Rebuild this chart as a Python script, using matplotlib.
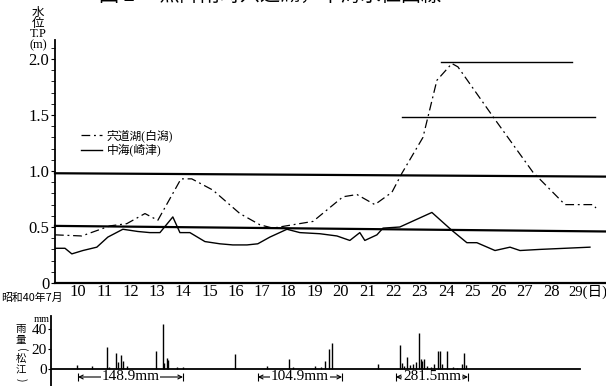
import numpy as np
import matplotlib
matplotlib.use("Agg")
import matplotlib.pyplot as plt
from matplotlib.ticker import MultipleLocator

plt.rcParams['font.family'] = ['Liberation Serif', 'Noto Sans CJK JP']

# water level, 宍道湖 (白潟)
shinji_day = [9.13, 10.15, 11.22, 11.86, 12.55, 13.04, 13.92, 14.33, 15.13, 16.16,
              16.92, 17.41, 18.17, 18.94, 20.08, 20.61, 21.29, 21.94, 22.32, 23.12,
              23.65, 24.22, 24.45, 25.86, 27.30, 28.52, 29.58, 29.70]
shinji_lvl = [0.43, 0.42, 0.51, 0.53, 0.62, 0.56, 0.93, 0.93, 0.83, 0.62,
              0.52, 0.49, 0.52, 0.55, 0.77, 0.79, 0.70, 0.81, 0.98, 1.30,
              1.81, 1.96, 1.93, 1.46, 0.99, 0.70, 0.70, 0.67]

# water level, 中海 (崎津)
naka_day = [9.13, 9.51, 9.77, 10.19, 10.72, 11.14, 11.71, 12.28, 12.74, 13.12,
            13.61, 13.88, 14.26, 14.83, 15.40, 15.89, 16.43, 16.84, 17.30, 17.95,
            18.44, 19.20, 19.85, 20.34, 20.72, 20.91, 21.37, 21.60, 22.24, 23.46,
            24.22, 24.79, 25.17, 25.86, 26.43, 26.81, 27.57, 29.47]
naka_lvl = [0.31, 0.31, 0.26, 0.29, 0.32, 0.41, 0.48, 0.46, 0.45, 0.45,
            0.59, 0.45, 0.45, 0.37, 0.35, 0.34, 0.34, 0.35, 0.41, 0.48,
            0.45, 0.44, 0.42, 0.38, 0.45, 0.38, 0.43, 0.49, 0.50, 0.63,
            0.47, 0.36, 0.36, 0.29, 0.32, 0.29, 0.30, 0.32]

# reference levels: (day from, day to, level at start, level at end)
ref_lines = [(9.13, 30.1, 0.98, 0.95),
             (9.13, 30.1, 0.51, 0.46),
             (23.8, 28.8, 1.97, 1.97),
             (22.33, 29.66, 1.48, 1.48)]

# hourly rainfall at 松江 (mm)
rain_day = [9.97, 10.53, 11.10, 11.18, 11.45, 11.52, 11.63, 11.71, 11.86,
            12.97, 13.23, 13.27, 13.38, 13.42, 13.76, 13.99, 15.97, 17.19,
            18.02, 18.17, 19.01, 19.24, 19.39, 19.54, 19.66, 21.41, 22.24,
            22.32, 22.40, 22.51, 22.63, 22.74, 22.85, 22.97, 23.04, 23.08,
            23.16, 23.27, 23.42, 23.54, 23.69, 23.76, 23.84, 24.03, 24.26,
            24.41, 24.60, 24.68, 24.75]
rain_mm = [4, 3, 22, 2, 16, 7, 14, 8, 3,
           18, 45, 6, 11, 9, 2, 2, 15, 3,
           10, 2, 3, 2, 8, 20, 26, 5, 24,
           6, 3, 12, 4, 5, 7, 36, 10, 8,
           10, 3, 2, 5, 18, 18, 5, 18, 2,
           1, 5, 16, 4]

# totals per rain spell: (from, to, label)
rain_totals = [(10.0, 13.99, "148.9mm"),
               (16.84, 20.04, "104.9mm"),
               (22.09, 24.83, "281.5mm")]

days = list(range(10, 29))
day_labels = [str(d) for d in days]
last_day, last_label = 29, "29(日)"

cjk = ['Noto Sans CJK JP', 'DejaVu Sans']

fig = plt.figure(figsize=(6.06, 3.86), dpi=100)

# --- water level panel ---
ax = fig.add_axes([55 / 606, 1 - 283 / 386, 1 - 55 / 606, 243 / 386])
ax.set_xlim(9.13, 30.08)
ax.set_ylim(0, 2.17)

for x0, x1, y0, y1 in ref_lines:
    lw = 1.6 if x0 < 10 else 1.0
    ax.plot([x0, x1], [y0, y1], color='black', lw=lw, clip_on=False)

ax.plot(shinji_day, shinji_lvl, color='black', lw=0.9,
        linestyle=(0, (7, 3, 1.5, 3)), label='宍道湖(白潟)')
ax.plot(naka_day, naka_lvl, color='black', lw=1.0, label='中海(崎津)')

ax.spines['top'].set_visible(False)
ax.spines['right'].set_visible(False)
ax.spines['left'].set_linewidth(1.3)
ax.spines['bottom'].set_linewidth(1.6)
ax.set_yticks([0, 0.5, 1.0, 1.5, 2.0])
ax.set_yticklabels(['0', '0.5', '1.0', '1.5', '2.0'], fontsize=12)
ax.yaxis.set_minor_locator(MultipleLocator(0.1))
ax.tick_params(axis='y', which='both', direction='out', length=3, pad=1)
ax.set_xticks(days)
ax.set_xticklabels(day_labels, fontsize=12)
ax.tick_params(axis='x', length=0, pad=1)
# last day label hangs to the right of its position
ax.text(last_day - 0.35, -0.012, last_label, ha='left', va='top', fontsize=10.5)

fig.text(38 / 606, 1 - 29 / 386, "水\n位\nT.P\n(m)", ha='center', va='center',
         fontsize=9, linespacing=0.85)
fig.text(1 / 606, 1 - 298 / 386, "昭和40年7月", ha='left', va='center', fontsize=7.8,
         family=cjk)
fig.text(0.445, 1.012, "図 2　 無降雨時宍道湖，中海水位曲線", ha='center', va='center',
         fontsize=14.5, family=cjk)

ax.legend(loc='upper left', bbox_to_anchor=(75 / 606, 1 - 124 / 386),
          bbox_transform=fig.transFigure, frameon=False, fontsize=8.5,
          handlelength=1.8, handletextpad=0.4, labelspacing=0.1, borderpad=0)

# --- rainfall panel ---
ax2 = fig.add_axes([51 / 606, 0, 1 - 51 / 606, 70 / 386])
ax2.set_xlim(8.97, 30.08)
ax2.set_ylim(-17, 53)
ax2.vlines(rain_day, 0, rain_mm, color='black', lw=1.0)
ax2.plot([8.97, 29.09], [0, 0], color='black', lw=1.3)

for x0, x1, txt in rain_totals:
    ax2.annotate("", xy=(x0, -8), xytext=(x1, -8),
                 arrowprops=dict(arrowstyle='<->', lw=0.8, color='black',
                                 shrinkA=0, shrinkB=0, mutation_scale=7))
    ax2.vlines([x0, x1], -12, -4, color='black', lw=0.8)
    ax2.text((x0 + x1) / 2, -8, txt, ha='center', va='center', fontsize=11,
             bbox=dict(facecolor='white', edgecolor='none', pad=0.5))

for s in ['top', 'right', 'bottom']:
    ax2.spines[s].set_visible(False)
ax2.spines['left'].set_linewidth(1.3)
ax2.set_xticks([])
ax2.set_yticks([0, 20, 40])
ax2.set_yticklabels(['0', '20', '40'], fontsize=11)
ax2.tick_params(axis='y', direction='out', length=2, pad=1)
fig.text(50 / 606, 1 - 319 / 386, "mm", ha='right', va='center', fontsize=7.5)

# vertical axis title, one character per row; brackets turned for vertical writing
for ch, ypx, rot in zip("雨量(松江)", [329, 340, 350, 359, 370, 380],
                        [0, 0, -90, 0, 0, -90]):
    fig.text(21 / 606, 1 - ypx / 386, ch, ha='center', va='center',
             fontsize=7.5, family=cjk, rotation=rot)

fig.savefig("out.png", dpi=100)
